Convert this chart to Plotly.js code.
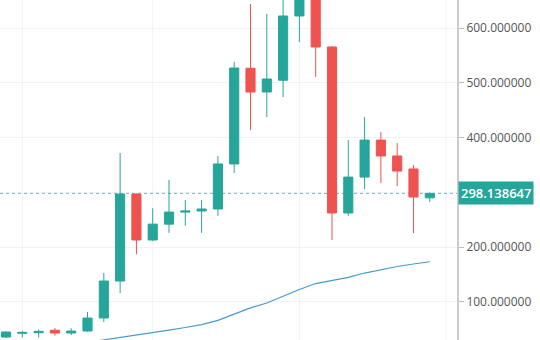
<!DOCTYPE html>
<html>
<head>
<meta charset="utf-8">
<script src="https://cdn.plot.ly/plotly-3.0.1.min.js"></script>
<style>html,body{margin:0;padding:0;background:#fff;}#chart{width:540px;height:340px;}</style>
</head>
<body>
<div id="chart"></div>
<script>
// Candle index (time order)
const candleIndex = [0,1,2,3,4,5,6,7,8,9,10,11,12,13,14,15,16,17,18,19,20,21,22,23,24,25,26];
const openVals  = [35.6,42.5,43.5,48,43,46.6,70.4,138,297,213,242,264,266,269.7,352,527,483.5,505,622.5,690,565.8,262.4,328,395.6,366.6,342.8,290];
const highVals  = [46,47,49,52,51.6,81.3,152.7,372,298,271,323,286,286,366.6,538.4,644.4,626,660,720,700,567.6,395.6,437.7,410.2,390.3,350,300];
const lowVals   = [34,35,35,38,39.3,45,63,116,187,211,226,239,226,257,335.5,414,437.7,474.4,575,511,213,257,306,317,311.7,225.8,282.5];
const closeVals = [44.8,44,46,43,46.5,70.4,138,297,213,242,264,266,269.7,352,527.4,483.5,507.3,622.5,690,565.8,262.4,328,395.6,366.6,339,291.6,298.138647];
// Moving average line
const maIndex  = [5,6,7,8,9,10,11,12,13,14,15,16,17,18,19,20,21,22,23,24,25,26];
const maVals   = [26,30.2,34.7,39.3,43.6,48.1,53,58.2,66.2,77.7,89,97.8,110.6,122.5,133.4,138.9,144.6,152.6,158.9,164.5,169.1,173.3];
// Axis ticks
const yTicks = [100,200,400,500,600];
const timeGrid = [1,9,18,27];
const lastPrice = 298.138647;

const up = '#26a69a', down = '#ef5350', grid = '#f0f3f6';

const traces = [
  {
    type: 'scatter', mode: 'lines', x: maIndex, y: maVals,
    line: {color: '#4a9ac9', width: 1.2}, hoverinfo: 'skip', showlegend: false
  },
  {
    type: 'candlestick', x: candleIndex,
    open: openVals, high: highVals, low: lowVals, close: closeVals,
    increasing: {line: {color: up, width: 1}, fillcolor: up},
    decreasing: {line: {color: down, width: 1}, fillcolor: down},
    whiskerwidth: 0, showlegend: false, hoverinfo: 'skip'
  }
];

const shapes = [];
timeGrid.forEach(v => shapes.push({type:'line', xref:'x', yref:'paper', x0:v, x1:v, y0:0, y1:1, line:{color:grid, width:1}, layer:'below'}));
shapes.push({type:'line', xref:'paper', yref:'y', x0:0, x1:1, y0:300, y1:300, line:{color:grid, width:1}, layer:'below'});
shapes.push({type:'line', xref:'paper', yref:'y', x0:0, x1:1, y0:lastPrice, y1:lastPrice, line:{color:'#7fb3bd', width:1, dash:'dot'}, layer:'below'});

const layout = {
  width: 540, height: 340,
  margin: {l: 0, r: 83, t: 0, b: 0, pad: 0},
  paper_bgcolor: '#ffffff', plot_bgcolor: '#ffffff',
  showlegend: false, hovermode: false,
  boxgap: 0.2,
  xaxis: {
    range: [-0.37, 27.67], showticklabels: false, showgrid: false, zeroline: false,
    rangeslider: {visible: false}, fixedrange: true
  },
  yaxis: {
    side: 'right', range: [30.2, 651.7], tickvals: yTicks, tickformat: '.6f',
    showgrid: true, gridcolor: grid, gridwidth: 1, zeroline: false,
    showline: true, linecolor: '#cccccc', linewidth: 2,
    ticks: 'outside', ticklen: 5, tickcolor: '#bbbbbb', tickwidth: 1,
    tickfont: {family: 'Open Sans, sans-serif', size: 12, color: '#555555'},
    fixedrange: true
  },
  shapes: shapes,
  annotations: [{
    xref: 'paper', yref: 'y', x: 1, y: lastPrice, xanchor: 'left', yanchor: 'middle',
    text: lastPrice.toFixed(6), showarrow: false,
    font: {family: 'Open Sans, sans-serif', size: 13, color: '#ffffff', weight: 600},
    bgcolor: up, borderpad: 2, xshift: 1
  }]
};

Plotly.newPlot('chart', traces, layout, {displayModeBar: false, staticPlot: true});
</script>
</body>
</html>
